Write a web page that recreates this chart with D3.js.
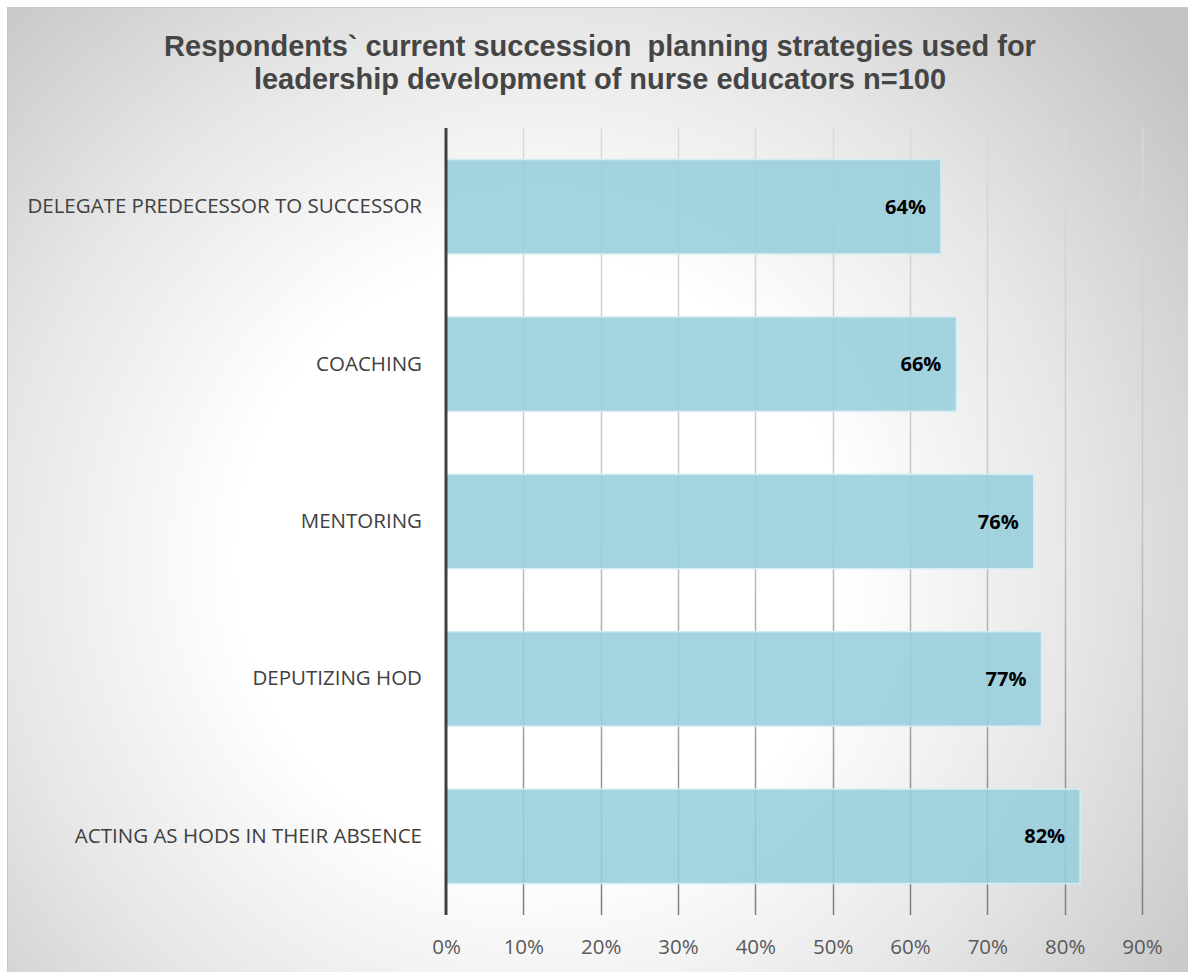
<!DOCTYPE html>
<html>
<head>
<meta charset="utf-8">
<script src="https://cdn.jsdelivr.net/npm/d3@7"></script>
<style>
  html, body { margin: 0; padding: 0; background: #ffffff; }
  svg { display: block; }
</style>
</head>
<body>
<svg id="chart" width="1188" height="972"></svg>
<script>
// Succession planning strategies and the share of respondents using each
const categories = [
  "DELEGATE PREDECESSOR TO SUCCESSOR",
  "COACHING",
  "MENTORING",
  "DEPUTIZING HOD",
  "ACTING AS HODS IN THEIR ABSENCE"
];
const values = [0.64, 0.66, 0.76, 0.77, 0.82];
const tickValues = [0, 0.1, 0.2, 0.3, 0.4, 0.5, 0.6, 0.7, 0.8, 0.9];
const titleLines = [
  "Respondents` current succession  planning strategies used for",
  "leadership development of nurse educators n=100"
];

const svg = d3.select("#chart");
const W = 1188, H = 972;
const plot = { left: 446, right: 1142, top: 128, bottom: 915 };

const defs = svg.append("defs");

// Soft radial backdrop: white centre fading to grey at the edges
const bg = defs.append("radialGradient")
  .attr("id", "bgGrad")
  .attr("gradientUnits", "userSpaceOnUse")
  .attr("cx", 540).attr("cy", 560).attr("r", 800);
bg.append("stop").attr("offset", "0").attr("stop-color", "#ffffff");
bg.append("stop").attr("offset", "0.38").attr("stop-color", "#ffffff");
bg.append("stop").attr("offset", "0.68").attr("stop-color", "#e6e6e6");
bg.append("stop").attr("offset", "1").attr("stop-color", "#c4c4c4");

// Gridlines darken toward the bottom of the plot
const gg = defs.append("linearGradient")
  .attr("id", "gridGrad")
  .attr("gradientUnits", "userSpaceOnUse")
  .attr("x1", 0).attr("y1", plot.top).attr("x2", 0).attr("y2", plot.bottom);
gg.append("stop").attr("offset", "0").attr("stop-color", "#dadada");
gg.append("stop").attr("offset", "0.5").attr("stop-color", "#c4c4c4");
gg.append("stop").attr("offset", "1").attr("stop-color", "#7e7e7e");

// Chart frame
svg.append("rect")
  .attr("x", 7.5).attr("y", 7.5)
  .attr("width", W - 7).attr("height", H - 7)
  .attr("fill", "url(#bgGrad)")
  .attr("stroke", "#c8c8c8")
  .attr("stroke-width", 1);

// Title
svg.append("text")
  .attr("text-anchor", "middle")
  .style("font-family", "'Liberation Sans', Arial, sans-serif")
  .style("font-weight", "bold")
  .style("font-size", "29px")
  .style("white-space", "pre")
  .attr("fill", "#454545")
  .selectAll("tspan")
  .data(titleLines)
  .join("tspan")
  .attr("x", 600)
  .attr("y", (d, i) => 56 + i * 33)
  .text(d => d);

// Scales
const x = d3.scaleLinear().domain([0, 0.9]).range([plot.left, plot.right]);
const y = d3.scaleBand()
  .domain(categories)
  .range([plot.top, plot.bottom])
  .paddingInner(0.4)
  .paddingOuter(0.2);

// Vertical gridlines
svg.append("g")
  .selectAll("line")
  .data(tickValues.slice(1))
  .join("line")
  .attr("x1", d => Math.round(x(d)) + 0.5)
  .attr("x2", d => Math.round(x(d)) + 0.5)
  .attr("y1", plot.top)
  .attr("y2", plot.bottom)
  .attr("stroke", "url(#gridGrad)")
  .attr("stroke-width", 1.5);

// Bars
svg.append("g")
  .selectAll("rect")
  .data(categories)
  .join("rect")
  .attr("x", x(0))
  .attr("y", d => y(d))
  .attr("width", (d, i) => x(values[i]) - x(0))
  .attr("height", y.bandwidth())
  .attr("fill", "#98cedd")
  .attr("fill-opacity", 0.88)
  .attr("stroke", "#d4edf3")
  .attr("stroke-width", 1.5);

// Value labels inside the bar ends
svg.append("g")
  .selectAll("text")
  .data(categories)
  .join("text")
  .attr("x", (d, i) => x(values[i]) - 15)
  .attr("y", d => y(d) + y.bandwidth() / 2)
  .attr("dy", "0.35em")
  .attr("text-anchor", "end")
  .style("font-family", "'Open Sans', sans-serif")
  .style("font-weight", "bold")
  .style("font-size", "20px")
  .attr("fill", "#000000")
  .text((d, i) => d3.format(".0%")(values[i]));

// Category axis
const yAxis = svg.append("g")
  .attr("transform", `translate(${plot.left},0)`)
  .call(d3.axisLeft(y).tickSize(0).tickPadding(24));
yAxis.select(".domain").remove();
yAxis.selectAll("text")
  .style("font-family", "'Open Sans', sans-serif")
  .style("font-size", "20.5px")
  .attr("fill", "#404040");

svg.append("line")
  .attr("x1", plot.left).attr("x2", plot.left)
  .attr("y1", plot.top).attr("y2", plot.bottom)
  .attr("stroke", "#404040")
  .attr("stroke-width", 3);

// Percentage axis
const xAxis = svg.append("g")
  .attr("transform", `translate(0,${plot.bottom})`)
  .call(d3.axisBottom(x).tickValues(tickValues).tickFormat(d3.format(".0%")).tickSize(0).tickPadding(24));
xAxis.select(".domain").remove();
xAxis.selectAll("text")
  .style("font-family", "'Open Sans', sans-serif")
  .style("font-size", "20.5px")
  .attr("fill", "#595959");
</script>
</body>
</html>
